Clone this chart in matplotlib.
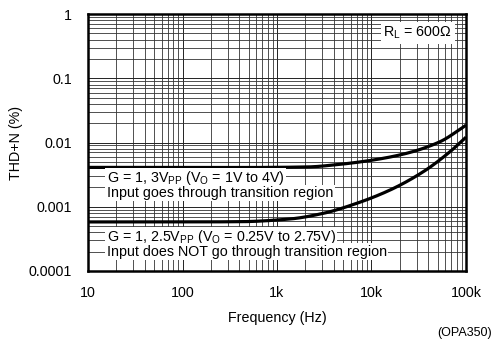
import matplotlib
matplotlib.use("Agg")
import matplotlib.pyplot as plt
import numpy as np

plt.rcParams['font.family'] = ['Liberation Sans', 'DejaVu Sans']
plt.rcParams['mathtext.fontset'] = 'custom'
plt.rcParams['mathtext.rm'] = 'Liberation Sans'
plt.rcParams['mathtext.default'] = 'regular'

# THD+N vs frequency, OPA350, RL = 600 ohm
freq_through = [10, 100, 405, 2060, 4640, 10400, 23500, 53000, 100000]
thdn_through = [0.0041, 0.0041, 0.00408, 0.00416, 0.00458, 0.00534, 0.00679, 0.01028, 0.0186]

freq_not_through = [10, 100, 405, 1370, 3090, 6970, 15700, 35300, 67700, 100000]
thdn_not_through = [0.00058, 0.00058, 0.000585, 0.000645, 0.00079, 0.00113, 0.00182, 0.00351, 0.00719, 0.0121]

x_ticks = [10, 100, 1000, 10000, 100000]
x_labels = ["10", "100", "1k", "10k", "100k"]
y_ticks = [0.0001, 0.001, 0.01, 0.1, 1]
y_labels = ["0.0001", "0.001", "0.01", "0.1", "1"]

FS = 10.3

fig = plt.figure(figsize=(5.0, 3.43), dpi=100)
ax = fig.add_axes([0.176, 0.210, 0.756, 0.749])


def smooth(xs, ys, n=500):
    """Monotone cubic (Fritsch-Carlson) curve through points in log-log space."""
    lx = np.log10(xs)
    ly = np.log10(ys)
    h = np.diff(lx)
    d = np.diff(ly) / h
    m = np.zeros_like(ly)
    m[0], m[-1] = d[0], d[-1]
    for i in range(1, len(ly) - 1):
        if d[i - 1] * d[i] <= 0:
            m[i] = 0.0
        else:
            w1 = 2 * h[i] + h[i - 1]
            w2 = h[i] + 2 * h[i - 1]
            m[i] = (w1 + w2) / (w1 / d[i - 1] + w2 / d[i])
    t = np.linspace(lx[0], lx[-1], n)
    out = np.empty_like(t)
    for j, tv in enumerate(t):
        k = min(np.searchsorted(lx, tv, side='right') - 1, len(lx) - 2)
        hk = h[k]
        s = (tv - lx[k]) / hk
        h00 = 2 * s**3 - 3 * s**2 + 1
        h10 = s**3 - 2 * s**2 + s
        h01 = -2 * s**3 + 3 * s**2
        h11 = s**3 - s**2
        out[j] = h00 * ly[k] + h10 * hk * m[k] + h01 * ly[k + 1] + h11 * hk * m[k + 1]
    return 10 ** t, 10 ** out


for xs, ys in ((freq_through, thdn_through), (freq_not_through, thdn_not_through)):
    fx, fy = smooth(xs, ys)
    ax.plot(fx, fy, color='black', lw=2.3, solid_capstyle='butt', zorder=3)

ax.set_xscale('log')
ax.set_yscale('log')
ax.set_xlim(10, 100000)
ax.set_ylim(0.0001, 1)
ax.set_xticks(x_ticks)
ax.set_xticklabels(x_labels)
ax.set_yticks(y_ticks)
ax.set_yticklabels(y_labels)
ax.tick_params(which='both', length=0, labelsize=FS)
ax.tick_params(axis='y', pad=11.5)
ax.tick_params(axis='x', pad=10.5)
ax.grid(which='major', color='#222222', lw=0.7)
ax.grid(which='minor', color='#333333', lw=0.6)
for sp in ax.spines.values():
    sp.set_linewidth(1.8)

ax.set_xlabel("Frequency (Hz)", fontsize=FS, labelpad=8)
ax.set_ylabel("THD+N (%)", fontsize=FS)
ax.yaxis.set_label_coords(-0.173, 0.5)

box = dict(facecolor='white', edgecolor='none', pad=1.0)
x0 = 15.8
ax.text(x0, 0.0028, "G = 1, 3V$_{PP}$ (V$_O$ = 1V to 4V)", fontsize=FS,
        va='center', ha='left', bbox=box, zorder=4)
ax.text(x0, 0.00164, "Input goes through transition region", fontsize=FS,
        va='center', ha='left', bbox=box, zorder=4)
ax.text(x0, 0.000338, "G = 1, 2.5V$_{PP}$ (V$_O$ = 0.25V to 2.75V)", fontsize=FS,
        va='center', ha='left', bbox=box, zorder=4)
ax.text(x0, 0.000198, "Input does NOT go through transition region", fontsize=FS,
        va='center', ha='left', bbox=box, zorder=4)
ax.text(71000, 0.506, "R$_L$ = 600Ω", fontsize=FS, va='center', ha='right',
        bbox=dict(facecolor='white', edgecolor='none', pad=2.0), zorder=4)

fig.text(0.984, 0.029, "(OPA350)", fontsize=9, ha='right', va='center')

fig.savefig("out.png", dpi=100)
